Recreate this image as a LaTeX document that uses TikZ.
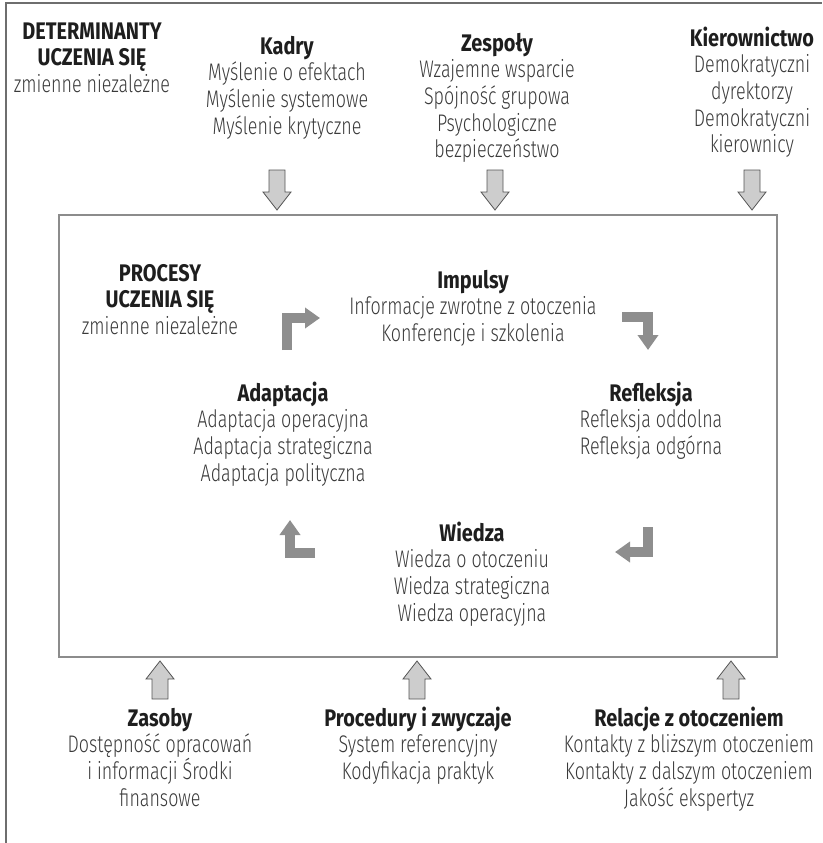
\documentclass[tikz,border=0pt]{standalone}
\usepackage{fontspec}
\setmainfont{Fira Sans Light}[FakeStretch=0.745]
\newfontfamily\headfont{Fira Sans Bold}[FakeStretch=0.83]
\usetikzlibrary{arrows.meta}

\definecolor{frameline}{HTML}{6E6E6E}
\definecolor{boxline}{HTML}{8C8C8C}
\definecolor{loopgray}{HTML}{8E8E8E}
\definecolor{blockfill}{HTML}{CDCDCD}
\definecolor{blockline}{HTML}{555555}
\definecolor{bodytext}{HTML}{3A3A3A}
\definecolor{headtext}{HTML}{1E1E1E}

\newcommand{\hd}[1]{{\headfont\color{headtext}#1}}

% Text blocks are anchored at the baseline of their last line.
\tikzset{
  txt/.style={anchor=base, align=center, inner sep=0pt, text=bodytext,
              font=\fontsize{24}{26.7}\selectfont},
  cycleturn/.style={draw=loopgray, line width=10pt, line cap=butt, line join=miter,
              -{Triangle[width=20pt,length=15pt]}},
  blockdown/.pic={
    \path[fill=blockfill, draw=blockline, line width=0.8pt]
      (-8,-40) -- (8,-40) -- (8,-18) -- (14,-18) -- (0,0) -- (-14,-18) -- (-8,-18) -- cycle;
  },
  blockup/.pic={
    \path[fill=blockfill, draw=blockline, line width=0.8pt]
      (-8,38) -- (8,38) -- (8,18) -- (14,18) -- (0,0) -- (-14,18) -- (-8,18) -- cycle;
  }
}

\begin{document}
\begin{tikzpicture}[x=1pt, y=-1pt]
  \useasboundingbox (0,0) rectangle (822,843);

  % outer frame (top and left edges)
  \draw[frameline, line width=2.5pt] (6,843) -- (6,3) -- (822,3);

  % box around the learning processes
  \draw[boxline, line width=2pt] (59,215) rectangle (777,657);

  % determinants above the box
  \node[txt] (det) at (92,92.4) {\hd{DETERMINANTY}\\\hd{UCZENIA SIĘ}\\zmienne niezależne};
  \node[txt] (kadry) at (287,134.1) {\hd{Kadry}\\Myślenie o efektach\\Myślenie systemowe\\Myślenie krytyczne};
  \node[txt] (zespoly) at (497,157.8) {\hd{Zespoły}\\Wzajemne wsparcie\\Spójność grupowa\\Psychologiczne\\bezpieczeństwo};
  \node[txt] (kier) at (752,152.8) {\hd{Kierownictwo}\\Demokratyczni\\dyrektorzy\\Demokratyczni\\kierownicy};

  \pic at (277,210) {blockdown};
  \pic at (495,210) {blockdown};
  \pic at (752,210) {blockdown};

  % learning processes inside the box
  \node[txt] (procesy) at (160,334.4) {\hd{PROCESY}\\\hd{UCZENIA SIĘ}\\zmienne niezależne};
  \node[txt] (impulsy) at (473,341.4) {\hd{Impulsy}\\Informacje zwrotne z otoczenia\\Konferencje i szkolenia};
  \node[txt] (refleksja) at (651,454.4) {\hd{Refleksja}\\Refleksja oddolna\\Refleksja odgórna};
  \node[txt] (adaptacja) at (283,481.1) {\hd{Adaptacja}\\Adaptacja operacyjna\\Adaptacja strategiczna\\Adaptacja polityczna};
  \node[txt] (wiedza) at (472,621.1) {\hd{Wiedza}\\Wiedza o otoczeniu\\Wiedza strategiczna\\Wiedza operacyjna};

  % learning cycle turns
  \coordinate (a1) at (287,350); \coordinate (a2) at (320,318);
  \coordinate (b1) at (622,317); \coordinate (b2) at (648,350);
  \coordinate (c1) at (648,527); \coordinate (c2) at (615,552);
  \coordinate (d1) at (315,553); \coordinate (d2) at (290,520);
  \draw[cycleturn] (a1) |- (a2);
  \draw[cycleturn] (b1) -| (b2);
  \draw[cycleturn] (c1) |- (c2);
  \draw[cycleturn] (d1) -| (d2);

  % determinants below the box
  \pic at (160,661) {blockup};
  \pic at (417,661) {blockup};
  \pic at (731,661) {blockup};

  \node[txt] (zasoby) at (160,806.1) {\hd{Zasoby}\\Dostępność opracowań\\i informacji Środki\\finansowe};
  \node[txt] (procedury) at (418,779.4) {\hd{Procedury i zwyczaje}\\System referencyjny\\Kodyfikacja praktyk};
  \node[txt] (relacje) at (689,806.1) {\hd{Relacje z otoczeniem}\\Kontakty z bliższym otoczeniem\\Kontakty z dalszym otoczeniem\\Jakość ekspertyz};
\end{tikzpicture}
\end{document}
